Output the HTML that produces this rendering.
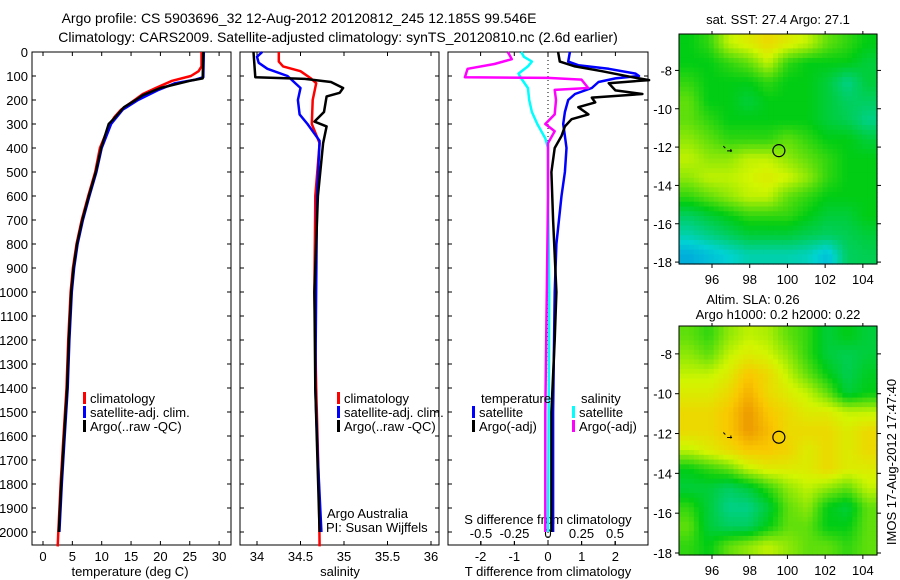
<!DOCTYPE html>
<html><head><meta charset="utf-8"><style>
body{margin:0;background:#fff;}
svg{display:block;font-family:"Liberation Sans",sans-serif;font-size:13px;}
</style></head><body>
<svg id="c" width="900" height="580" xmlns="http://www.w3.org/2000/svg">
<text x="299" y="23" text-anchor="middle" style="font-size:14px">Argo profile: CS 5903696_32 12-Aug-2012 20120812_245 12.185S 99.546E</text>
<text x="338" y="42" text-anchor="middle" style="font-size:14px">Climatology: CARS2009. Satellite-adjusted climatology: synTS_20120810.nc (2.6d earlier)</text>
<text x="778" y="24" text-anchor="middle">sat. SST: 27.4  Argo: 27.1</text>
<text x="753" y="304" text-anchor="middle">Altim. SLA: 0.26</text>
<text x="778" y="319" text-anchor="middle">Argo h1000: 0.2 h2000: 0.22</text>
<text transform="translate(896,462) rotate(-90)" text-anchor="middle">IMOS 17-Aug-2012 17:47:40</text>
<g id="g"></g>
</svg>
<script>
// ---- data ----
const depthTicks=[0,100,200,300,400,500,600,700,800,900,1000,1100,1200,1300,1400,1500,1600,1700,1800,1900,2000];
const tempTicks=[0,5,10,15,20,25,30];
const salTicks=[34,34.5,35,35.5,36];
const dTTicks=[-2,-1,0,1,2];
const dSTicks=[-0.5,-0.25,0,0.25,0.5];
const dSLabels=["-0.5","-0.25","0","0.25","0.5"];
const tempClim=[[0,27.0],[60,27.0],[80,26.5],[100,25.2],[120,22],[150,19.2],[175,17],[200,15.6],[240,13.3],[270,12.2],[300,11.4],[400,9.7],[500,8.9],[600,7.7],[700,6.6],[800,5.7],[900,5.1],[1000,4.7],[1200,4.3],[1400,4.0],[1600,3.5],[1800,3.0],[2000,2.6],[2060,2.5]];
const tempSat=[[0,27.4],[105,27.3],[115,26],[130,22.5],[160,19.5],[200,16.2],[240,13.6],[300,11.6],[400,10.0],[500,9.1],[600,7.9],[700,6.8],[800,5.9],[900,5.3],[1000,4.9],[1200,4.5],[1400,4.2],[1600,3.7],[1800,3.2],[2000,2.8]];
const tempArgo=[[0,27.3],[110,27.2],[120,25],[150,20],[180,17],[200,15.8],[230,13.8],[280,12],[300,11.2],[400,9.9],[500,9.0],[600,7.8],[700,6.7],[800,5.8],[900,5.2],[1000,4.8],[1200,4.4],[1400,4.1],[1600,3.6],[1800,3.1],[2000,2.7]];
const salClim=[[0,34.25],[40,34.25],[60,34.3],[80,34.5],[110,34.62],[130,34.68],[200,34.64],[300,34.63],[380,34.72],[600,34.67],[1000,34.66],[1400,34.68],[1800,34.71],[2060,34.72]];
const salSat=[[0,34.06],[20,34.0],[45,34.02],[70,34.12],[100,34.35],[150,34.5],[200,34.47],[260,34.49],[300,34.58],[370,34.72],[600,34.69],[1400,34.67],[1700,34.7],[2000,34.74]];
const salArgo=[[0,33.96],[105,33.98],[112,34.55],[125,34.85],[150,34.99],[170,34.95],[185,34.8],[250,34.77],[290,34.66],[310,34.8],[380,34.76],[600,34.7],[1000,34.66],[1400,34.67],[2000,34.72]];
const dTSat=[[0,0.65],[40,0.6],[55,0.9],[70,1.8],[90,2.6],[100,2.7],[110,2.0],[125,1.5],[150,1.3],[175,0.8],[200,0.6],[250,0.5],[300,0.45],[350,0.5],[400,0.55],[500,0.5],[600,0.4],[800,0.25],[1000,0.2],[1500,0.15],[2000,0.15]];
const dTArgo=[[0,0.3],[40,0.35],[60,0.8],[80,1.6],[105,2.5],[117,3.0],[130,1.8],[160,2.0],[175,2.8],[190,1.3],[210,1.4],[230,0.9],[260,1.2],[280,0.7],[310,0.5],[350,0.4],[400,0.2],[500,0.1],[700,0.15],[1000,0.25],[1200,0.2],[1500,0.1],[2000,0.1]];
const dSSat=[[0,-0.2],[20,-0.18],[40,-0.12],[60,-0.15],[90,-0.22],[110,-0.2],[150,-0.15],[200,-0.14],[250,-0.12],[300,-0.08],[360,-0.02],[400,0],[600,0],[1000,0.01],[2000,0.0]];
const dSArgo=[[0,-0.3],[30,-0.27],[50,-0.4],[70,-0.6],[105,-0.62],[108,0.0],[115,0.25],[150,0.3],[158,0.05],[200,0.06],[260,0.05],[300,-0.02],[330,0.05],[380,0.0],[600,0.0],[1500,-0.02],[2000,-0.02]];
const lonTicks=[96,98,100,102,104];
const latTicks=[-8,-10,-12,-14,-16,-18];
const sstGrid=[
[.5,.55,.7,.75,.8,.75,.7,.6,.55,.5],
[.5,.5,.55,.6,.7,.55,.5,.5,.5,.45],
[.55,.5,.5,.5,.55,.5,.5,.45,.35,.45],
[.6,.5,.5,.45,.5,.5,.5,.45,.4,.4],
[.6,.55,.5,.5,.5,.5,.5,.45,.42,.35],
[.65,.6,.55,.55,.55,.6,.55,.5,.5,.45],
[.7,.65,.65,.7,.7,.65,.6,.55,.5,.5],
[.65,.7,.7,.72,.75,.72,.65,.55,.5,.5],
[.55,.6,.65,.7,.7,.6,.55,.5,.5,.5],
[.4,.45,.5,.55,.55,.55,.5,.45,.45,.5],
[.3,.35,.4,.45,.45,.45,.42,.4,.42,.45],
[.15,.2,.25,.3,.3,.3,.28,.2,.4,.42]];
const slaGrid=[
[.6,.55,.65,.7,.68,.6,.55,.45,.5,.45],
[.65,.6,.7,.75,.72,.65,.55,.45,.42,.45],
[.7,.7,.75,.85,.8,.7,.6,.5,.42,.48],
[.75,.75,.8,.9,.8,.75,.7,.6,.45,.5],
[.8,.8,.85,.95,.85,.8,.75,.75,.7,.7],
[.8,.8,.85,.95,.88,.8,.8,.8,.75,.8],
[.7,.75,.8,.85,.85,.82,.75,.8,.75,.8],
[.5,.55,.6,.7,.75,.75,.75,.8,.75,.75],
[.45,.45,.4,.45,.55,.65,.7,.65,.6,.7],
[.55,.45,.35,.35,.45,.6,.65,.5,.45,.6],
[.6,.45,.4,.4,.5,.6,.6,.5,.5,.6],
[.55,.5,.6,.65,.7,.65,.6,.6,.55,.6]];
// ---- drawing ----
const NS="http://www.w3.org/2000/svg";const G=document.getElementById('g');
function mk(t,a,p){const e=document.createElementNS(NS,t);for(const k in a)e.setAttribute(k,a[k]);(p||G).appendChild(e);return e;}
const Y0=52,Y1=545;const dy=d=>Y0+d*0.24;
const panels=[{x0:32,x1:231},{x0:240,x1:439},{x0:448,x1:648}];
const xT=t=>43+t*5.87, xS=s=>257+(s-34)*87, xdT=t=>548+t*33.7, xdS=s=>548+s*134;
function frame(p,name){const r=mk('rect',{x:p.x0,y:Y0,width:p.x1-p.x0,height:Y1-Y0,fill:'none',stroke:'#000','stroke-width':1});

}
frame(panels[0],'temperature-panel');frame(panels[1],'salinity-panel');frame(panels[2],'difference-panel');
depthTicks.forEach(d=>{const y=dy(d);
 const t=mk('text',{x:28,y:y+5,'text-anchor':'end'});t.textContent=d;
 
 
 panels.forEach(p=>{mk('line',{x1:p.x0,x2:p.x0+4,y1:y,y2:y,stroke:'#000'});mk('line',{x1:p.x1-4,x2:p.x1,y1:y,y2:y,stroke:'#000'});});});
function xticks(vals,fx,p,labels,ly,top){vals.forEach((v,i)=>{const x=fx(v);
 mk('line',{x1:x,x2:x,y1:Y1-4,y2:Y1,stroke:'#000'});mk('line',{x1:x,x2:x,y1:Y0,y2:Y0+4,stroke:'#000'});
 const t=mk('text',{x:x,y:ly,'text-anchor':'middle'});t.textContent=labels?labels[i]:v;
 
 });}
xticks(tempTicks,xT,panels[0],null,561);xticks(salTicks,xS,panels[1],null,561);xticks(dTTicks,xdT,panels[2],null,561);
dSTicks.forEach((v,i)=>{const x=xdS(v);mk('line',{x1:x,x2:x,y1:Y1-4,y2:Y1,stroke:'#000'});
 const t=mk('text',{x:x,y:538,'text-anchor':'middle'});t.textContent=dSLabels[i];
 
 });
[['temperature (deg C)',130,'temperature-axis-title'],['salinity',340,'salinity-axis-title'],['T difference from climatology',548,'t-diff-axis-title']].forEach(a=>{const t=mk('text',{x:a[1],y:576,'text-anchor':'middle'});t.textContent=a[0];
 
 });
const st=mk('text',{x:548,y:524,'text-anchor':'middle'});st.textContent='S difference from climatology';


mk('line',{x1:548,x2:548,y1:Y0,y2:Y1,stroke:'#000','stroke-dasharray':'1,3'});
function line(data,fx,col,name){const pts=data.map(d=>fx(d[1]).toFixed(1)+','+dy(d[0]).toFixed(1)).join(' ');
 const e=mk('polyline',{points:pts,fill:'none',stroke:col,'stroke-width':2.5,'stroke-linejoin':'round'});
 
 }
line(tempClim,xT,'#f00','temp-climatology-line');line(tempSat,xT,'#00f','temp-satellite-line');line(tempArgo,xT,'#000','temp-argo-line');
line(salClim,xS,'#f00','sal-climatology-line');line(salSat,xS,'#00f','sal-satellite-line');line(salArgo,xS,'#000','sal-argo-line');
line(dSSat,xdS,'#0ff','sdiff-satellite-line');line(dTSat,xdT,'#00f','tdiff-satellite-line');line(dTArgo,xdT,'#000','tdiff-argo-line');line(dSArgo,xdS,'#f0f','sdiff-argo-line');
function legend(x,y,items){items.forEach((it,i)=>{const yy=y+i*14;
 const m=mk('rect',{x:x,y:yy-11,width:3,height:12,fill:it[1]});
 
 
 const t=mk('text',{x:x+7,y:yy});t.textContent=it[0];
 
 });}
legend(83,403,[['climatology','#f00'],['satellite-adj. clim.','#00f'],['Argo(..raw -QC)','#000']]);
legend(337,403,[['climatology','#f00'],['satellite-adj. clim.','#00f'],['Argo(..raw -QC)','#000']]);
const lt=mk('text',{x:481,y:403});lt.textContent='temperature';


const ls=mk('text',{x:581,y:403});ls.textContent='salinity';


legend(472,417,[['satellite','#00f'],['Argo(-adj)','#000']]);
legend(572,417,[['satellite','#0ff'],['Argo(-adj)','#f0f']]);
const a1=mk('text',{x:327,y:518});a1.textContent='Argo Australia';


const a2=mk('text',{x:326,y:532});a2.textContent='PI: Susan Wijffels';


// maps
function cmap(v){const stops=[[0,[0,120,230]],[0.25,[0,210,210]],[0.5,[0,205,20]],[0.72,[210,245,0]],[0.85,[250,200,0]],[1,[230,130,0]]];
 for(let i=1;i<stops.length;i++){if(v<=stops[i][0]){const a=stops[i-1],b=stops[i],f=(v-a[0])/(b[0]-a[0]);
 return 'rgb('+a[1].map((c,k)=>Math.round(c+(b[1][k]-c)*f)).join(',')+')';}}return 'rgb(230,130,0)';}
function map(grid,top,bot,latTop,name){const x0=679,x1=877,lon0=94.25,lon1=104.75;
 const fx=l=>x0+(l-lon0)/(lon1-lon0)*(x1-x0), fy=la=>top+(latTop-la)/(latTop+18.1)*(bot-top);
 const g=mk('g',{});
 
 const R=grid.length,C=grid[0].length,sub=4;
 const cw=(x1-x0)/(C*sub),ch=(bot-top)/(R*sub);
 for(let r=0;r<R*sub;r++)for(let c=0;c<C*sub;c++){
  const gr=Math.min(R-1,Math.max(0,(r+0.5)/sub-0.5)),gc=Math.min(C-1,Math.max(0,(c+0.5)/sub-0.5));
  const r0=Math.floor(gr),c0=Math.floor(gc),r1=Math.min(R-1,r0+1),c1=Math.min(C-1,c0+1),fr=gr-r0,fc=gc-c0;
  const v=grid[r0][c0]*(1-fr)*(1-fc)+grid[r0][c1]*(1-fr)*fc+grid[r1][c0]*fr*(1-fc)+grid[r1][c1]*fr*fc;
  mk('rect',{x:(x0+c*cw).toFixed(2),y:(top+r*ch).toFixed(2),width:(cw+0.6).toFixed(2),height:(ch+0.6).toFixed(2),fill:cmap(v)},g);}
 mk('rect',{x:x0,y:top,width:x1-x0,height:bot-top,fill:'none',stroke:'#000'},g);
 lonTicks.forEach(l=>{const x=fx(l);mk('line',{x1:x,x2:x,y1:bot,y2:bot+4,stroke:'#000'},g);mk('line',{x1:x,x2:x,y1:top-3,y2:top,stroke:'#000'},g);
  const t=mk('text',{x:x,y:bot+20,'text-anchor':'middle'},g);t.textContent=l;
  
  });
 latTicks.forEach(la=>{const y=fy(la);mk('line',{x1:x0-4,x2:x0,y1:y,y2:y,stroke:'#000'},g);mk('line',{x1:x1,x2:x1+4,y1:y,y2:y,stroke:'#000'},g);
  const t=mk('text',{x:x0-7,y:y+5,'text-anchor':'end'},g);t.textContent=la;
  
  });
 const c=mk('circle',{cx:fx(99.546),cy:fy(-12.185),r:6,fill:'none',stroke:'#000','stroke-width':1.2},g);
 
 
 mk('path',{d:`M${fx(96.6)} ${fy(-11.95)} l2 2 M${fx(96.8)} ${fy(-12.2)} h5 M${fx(97)} ${fy(-12.1)} v3`,stroke:'#000','stroke-width':1,fill:'none'},g);}
map(sstGrid,34,264,-6.1,'sst-map');
map(slaGrid,326,555,-6.6,'sla-map');
</script>
</body></html>
